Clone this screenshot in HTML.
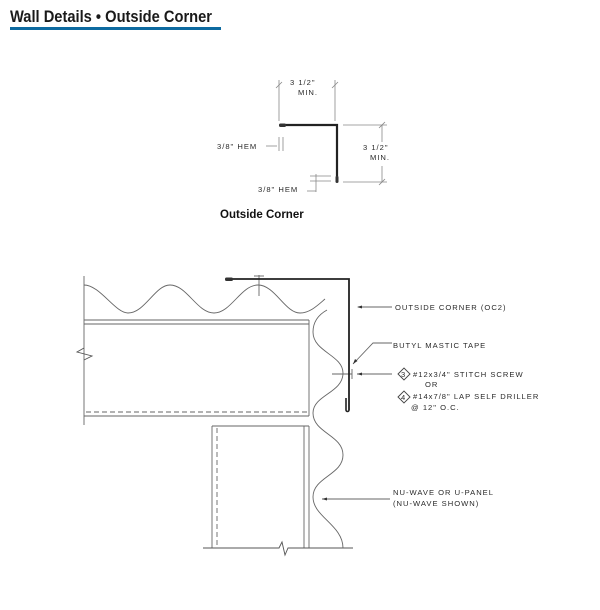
<!DOCTYPE html>
<html><head><meta charset="utf-8"><style>
html,body{margin:0;padding:0;background:#fff;width:600px;height:610px;overflow:hidden}
svg{display:block}
.t{font-family:"Liberation Sans",sans-serif;font-size:7.6px;fill:#2a2a2a;letter-spacing:1px}
</style></head><body>
<svg width="600" height="610" viewBox="0 0 600 610" xmlns="http://www.w3.org/2000/svg">
<text x="10" y="22" font-family="Liberation Sans,sans-serif" font-size="16.5" font-weight="bold" fill="#1a1a1a" textLength="202" lengthAdjust="spacingAndGlyphs">Wall Details • Outside Corner</text>
<rect x="10" y="27" width="211" height="3" fill="#0d6aa0"/>

<!-- small detail -->
<g stroke="#888" stroke-width="0.8" fill="none">
<line x1="279" y1="80" x2="279" y2="121"/><line x1="335" y1="80" x2="335" y2="121"/>
<line x1="276" y1="88" x2="282" y2="82"/><line x1="332" y1="88" x2="338" y2="82"/>
<line x1="343" y1="125" x2="387" y2="125"/><line x1="343" y1="182" x2="387" y2="182"/>
<line x1="382" y1="125" x2="382" y2="142"/><line x1="382" y1="166" x2="382" y2="182"/>
<line x1="379" y1="128" x2="385" y2="122"/><line x1="379" y1="185" x2="385" y2="179"/>
<line x1="266" y1="146" x2="277" y2="146"/><line x1="279" y1="137" x2="279" y2="151"/><line x1="283" y1="137" x2="283" y2="151"/>
<line x1="310" y1="176" x2="331" y2="176"/><line x1="310" y1="181" x2="331" y2="181"/>
<line x1="316" y1="174" x2="316" y2="192"/><line x1="307" y1="191" x2="316" y2="191"/>
</g>
<path d="M281 125 H337 V182" stroke="#222" stroke-width="2.2" fill="none"/>
<rect x="279" y="123.5" width="7" height="3.5" rx="1.5" fill="#333"/>
<rect x="335.5" y="176" width="3" height="7" rx="1.2" fill="#333"/>
<text class="t" x="290" y="85">3 1/2"</text><text class="t" x="298" y="95">MIN.</text>
<text class="t" x="363" y="150">3 1/2"</text><text class="t" x="370" y="160">MIN.</text>
<text class="t" x="217" y="149">3/8" HEM</text>
<text class="t" x="258" y="192">3/8" HEM</text>
<text x="220" y="218" font-family="Liberation Sans,sans-serif" font-size="11.5" font-weight="bold" fill="#111">Outside Corner</text>

<!-- large detail -->
<g stroke="#666" stroke-width="0.9" fill="none">
<line x1="84" y1="276" x2="84" y2="425"/>
<path d="M84 285 C100 285 115 313 128 313 C145 313 155 285 170 285 C187 285 197 313 214 313 C231 313 241 285 258 285 C275 285 285 313 300 313 C310 313 318 305 325 299"/>
<line x1="84" y1="320" x2="309" y2="320"/><line x1="84" y1="324" x2="309" y2="324"/>
<line x1="84" y1="416" x2="309" y2="416"/>
<line x1="86" y1="412" x2="308" y2="412" stroke-dasharray="5,3"/>
<line x1="309" y1="320" x2="309" y2="416"/>
<path d="M84 348 L77 352 L92 356 L84 360" stroke="#555"/>
<line x1="212" y1="426" x2="309" y2="426"/>
<line x1="212" y1="426" x2="212" y2="548"/><line x1="309" y1="426" x2="309" y2="548"/><line x1="304" y1="426" x2="304" y2="548"/>
<line x1="217" y1="428" x2="217" y2="548" stroke-dasharray="5,3"/>
<path d="M203 548 H279 L282 542 L285 555 L288 548 H353" stroke="#555"/>
<path d="M327 310 C318 315 313 322 313 332 C313 352 343 355 343 373 C343 393 313 395 313 413 C313 433 343 435 343 455 C343 475 313 477 313 497 C313 517 343 525 343 548"/>
<line x1="259" y1="275" x2="259" y2="296"/><line x1="254" y1="276" x2="264" y2="276"/><line x1="254" y1="279" x2="264" y2="279"/>
<line x1="332" y1="374" x2="352" y2="374"/><line x1="349" y1="369" x2="349" y2="379"/><line x1="352" y1="369" x2="352" y2="379"/>
<line x1="392" y1="307" x2="358" y2="307"/>
<path d="M392 343 H373 L353 364"/>
<line x1="392" y1="374" x2="357" y2="374"/>
<line x1="390" y1="499" x2="322" y2="499"/>
<path d="M398 374 l6 -6 l6 6 l-6 6 z M398 397 l6 -6 l6 6 l-6 6 z" stroke="#444"/>
</g>
<g fill="#333"><path d="M357 307 l5 -1.5 v3 z"/><path d="M357 374 l5 -1.5 v3 z"/><path d="M322 499 l5 -1.5 v3 z"/><path d="M353 364 l2 -5 l2.5 2 z"/></g>
<path d="M228 279 H349 V410" stroke="#222" stroke-width="1.8" fill="none"/>
<rect x="225" y="277.5" width="8" height="3.5" rx="1.5" fill="#333"/>
<path d="M349 410 a1.5 1.5 0 0 1 -3 0 V398" stroke="#222" stroke-width="1.6" fill="none"/>
<text class="t" x="395" y="310">OUTSIDE CORNER (OC2)</text>
<text class="t" x="393" y="348">BUTYL MASTIC TAPE</text>
<text class="t" x="401" y="377" font-size="6.5">3</text>
<text class="t" x="413" y="377">#12x3/4" STITCH SCREW</text>
<text class="t" x="425" y="387">OR</text>
<text class="t" x="401" y="400" font-size="6.5">4</text>
<text class="t" x="413" y="399">#14x7/8" LAP SELF DRILLER</text>
<text class="t" x="411" y="410">@ 12" O.C.</text>
<text class="t" x="393" y="495">NU-WAVE OR U-PANEL</text>
<text class="t" x="393" y="506">(NU-WAVE SHOWN)</text>
</svg>
</body></html>
